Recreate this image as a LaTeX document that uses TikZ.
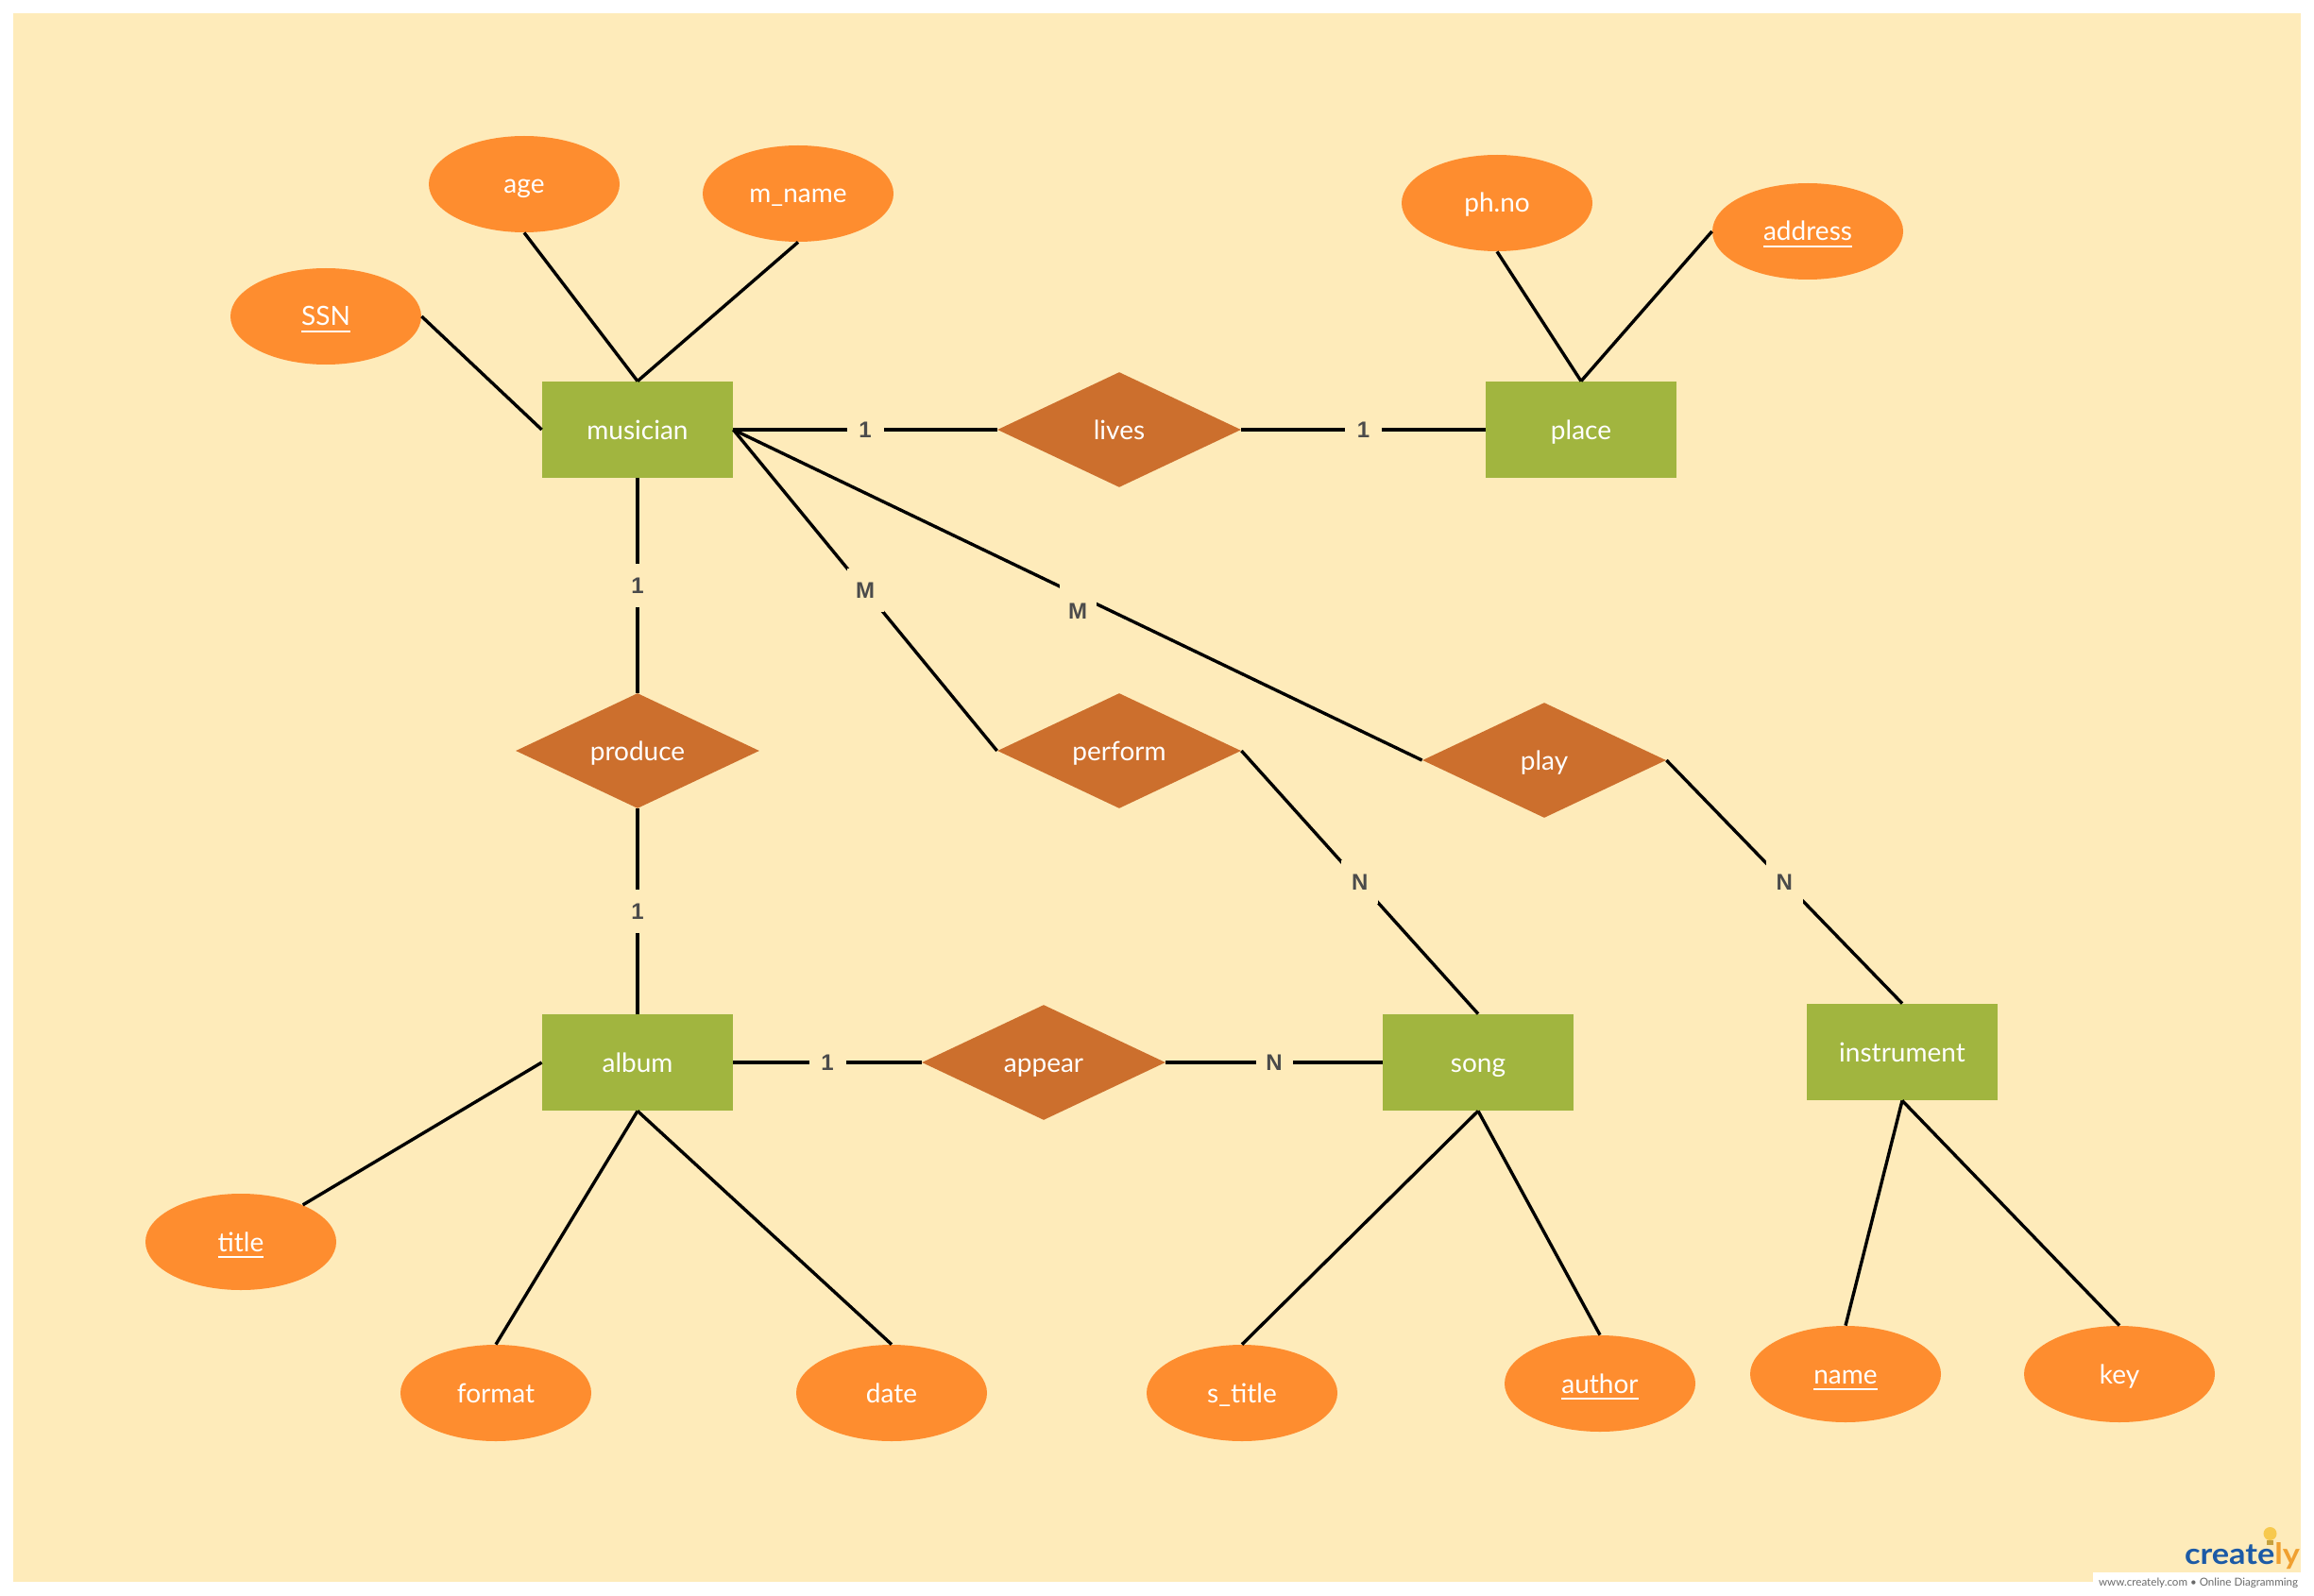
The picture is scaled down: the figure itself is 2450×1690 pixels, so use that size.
\documentclass[tikz,border=0pt]{standalone}
\usepackage{fontspec}
\setmainfont{Lato}
\newfontfamily\lblfont{Liberation Sans}
\usetikzlibrary{shapes.geometric}
\definecolor{bgc}{HTML}{FEEBBA}
\definecolor{boxc}{HTML}{A1B53F}
\definecolor{relc}{HTML}{CC6F2D}
\definecolor{ellc}{HTML}{FE8D2F}
\definecolor{lblc}{HTML}{4B4B4B}
\definecolor{logob}{HTML}{1C5AA6}
\definecolor{logoo}{HTML}{F0A030}
\definecolor{bulbc}{HTML}{F7C94E}
\definecolor{footc}{HTML}{6A6A6A}
\newcommand\ulx[1]{\setbox0\hbox{#1}\rlap{\rule[-3.5pt]{\wd0}{0.8pt}}\box0}
\begin{document}
\begin{tikzpicture}[x=0.5pt,y=-0.5pt,
  txt/.style={text=white, font=\fontsize{14}{16}\selectfont, text height=12.5pt, text depth=2.5pt},
  entity/.style={txt, rectangle, fill=boxc, minimum width=101pt, minimum height=51pt, inner sep=0pt},
  attr/.style={txt, ellipse, fill=ellc, minimum width=101pt, minimum height=51pt, inner sep=0pt},
  rel/.style={txt, diamond, fill=relc, minimum width=129pt, minimum height=61pt, inner sep=0pt, shape aspect=2.2},
  conn/.style={line width=1.7pt, black},
  card/.style={fill=bgc, text=lblc, font=\lblfont\bfseries\fontsize{12}{12}\selectfont, inner sep=0pt, minimum width=19.5pt, minimum height=23pt},
  cardt/.style={text=lblc, font=\lblfont\bfseries\fontsize{12}{12}\selectfont, inner sep=0pt}]
\useasboundingbox (0,0) rectangle (2450,1690);
\fill[white] (0,0) rectangle (2450,1690);
\fill[bgc] (14,14) rectangle (2436,1675);

% entities
\node[entity] (musician) at (675,455) {musician};
\node[entity] (place) at (1674,455) {place};
\node[entity] (album) at (675,1125) {album};
\node[entity] (song) at (1565,1125) {song};
\node[entity] (instrument) at (2014,1114) {instrument};

% relationships
\node[rel] (lives) at (1185,455) {lives};
\node[rel] (produce) at (675,795) {produce};
\node[rel] (perform) at (1185,795) {perform};
\node[rel] (play) at (1635,805) {play};
\node[rel] (appear) at (1105,1125) {appear};

% attributes
\node[attr] (age) at (555,195) {age};
\node[attr] (mname) at (845,205) {m\_name};
\node[attr] (ssn) at (345,335) {\ulx{SSN}};
\node[attr] (phno) at (1585,215) {ph.no};
\node[attr] (address) at (1914,245) {\ulx{address}};
\node[attr] (title) at (255,1315) {\ulx{title}};
\node[attr] (format) at (525,1475) {format};
\node[attr] (date) at (944,1475) {date};
\node[attr] (stitle) at (1315,1475) {s\_title};
\node[attr] (author) at (1694,1465) {\ulx{author}};
\node[attr] (name) at (1954,1455) {\ulx{name}};
\node[attr] (key) at (2244,1455) {key};

% attribute connectors
\draw[conn] (ssn.east) -- (musician.west);
\draw[conn] (age.south) -- (musician.north);
\draw[conn] (mname.south) -- (musician.north);
\draw[conn] (phno.south) -- (place.north);
\draw[conn] (address.west) -- (place.north);
\draw[conn] (album.west) -- (title);
\draw[conn] (album.south) -- (format.north);
\draw[conn] (album.south) -- (date.north);
\draw[conn] (song.south) -- (stitle.north);
\draw[conn] (song.south) -- (author.north);
\draw[conn] (instrument.south) -- (name.north);
\draw[conn] (instrument.south) -- (key.north);

% relationship connectors
\draw[conn] (musician.east) -- node[card] {1} (lives.west);
\draw[conn] (lives.east) -- node[card] {1} (place.west);
\draw[conn] (musician.south) -- node[card] {1} (produce.north);
\draw[conn] (produce.south) -- node[card] {1} (album.north);
\draw[conn] (musician.east) -- node[card] {M} (perform.west);
\draw[conn] (musician.east) -- node[card] {} node[cardt, yshift=-8.5pt] {M} (play.west);
\draw[conn] (perform.east) -- node[card] {N} (song.north);
\draw[conn] (play.east) -- node[card] {N} (instrument.north);
\draw[conn] (album.east) -- node[card] {1} (appear.west);
\draw[conn] (appear.east) -- node[card] {N} (song.west);

% logo
\fill[white] (2216,1665) rectangle (2438,1686);
\fill[bulbc] (2403.5,1624) circle (7);
\fill[bulbc!80!black] (2400,1631) rectangle (2407,1636);
\node[anchor=base, inner sep=0pt] (logo) at (2374,1656)
  {\resizebox{61pt}{11.5pt}{\bfseries\textcolor{logob}{create}\textcolor{logoo}{ly}}};
\node[anchor=base, inner sep=0pt] (foot) at (2327.5,1679)
  {\resizebox{105.5pt}{!}{\textcolor{footc}{www.creately.com • Online Diagramming}}};
\end{tikzpicture}
\end{document}
